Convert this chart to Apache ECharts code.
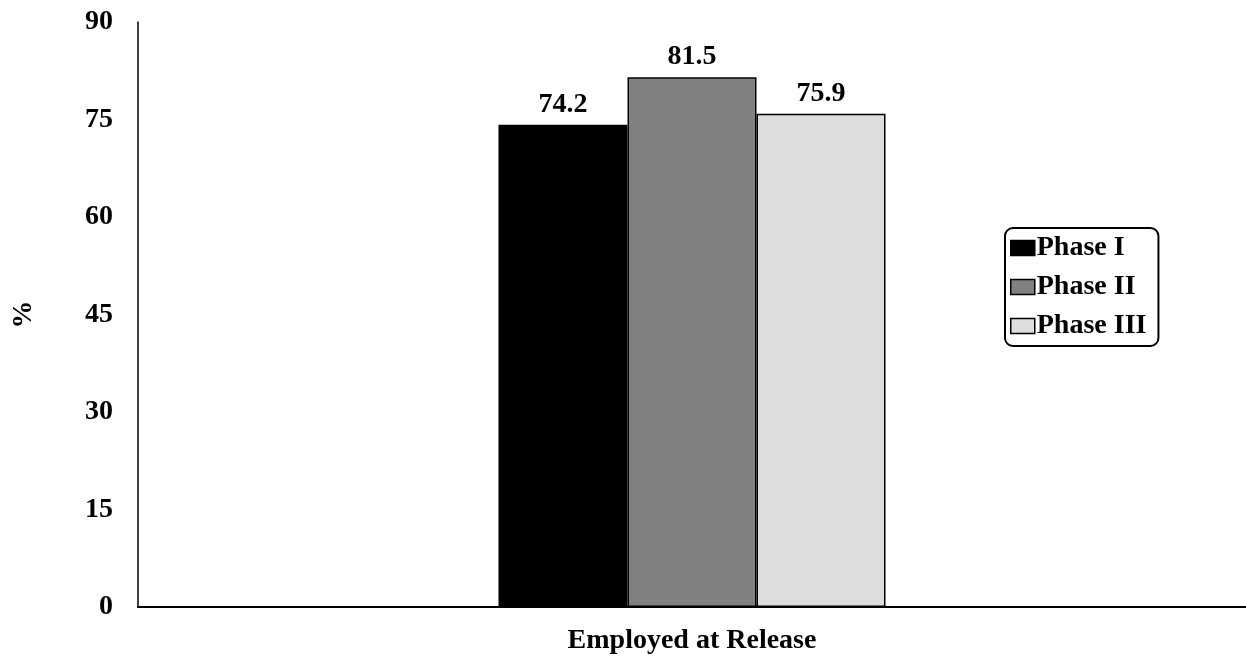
<!DOCTYPE html>
<html>
<head>
<meta charset="utf-8">
<script src="https://cdn.jsdelivr.net/npm/echarts@6/dist/echarts.min.js"></script>
<style>
html,body{margin:0;padding:0;background:#fff;}
#chart{width:1246px;height:656px;}
</style>
</head>
<body>
<div id="chart"></div>
<script>
const categories = ['Employed at Release'];
const seriesNames = ['Phase I', 'Phase II', 'Phase III'];
const phase1 = [74.2];
const phase2 = [81.5];
const phase3 = [75.9];
const seriesColors = ['#000000', '#808080', '#dddddd'];
const yTicks = { min: 0, max: 90, interval: 15 };

const font = '"Liberation Serif", "Times New Roman", serif';
const values = [phase1, phase2, phase3];

const chart = echarts.init(document.getElementById('chart'));
chart.setOption({
  animation: false,
  backgroundColor: '#ffffff',
  textStyle: { fontFamily: font },
  grid: { left: 138, right: 0, top: 22, bottom: 49, containLabel: false, outerBoundsMode: 'none' },
  legend: {
    orient: 'vertical',
    left: 1005,
    top: 228,
    padding: [6, 12, 6, 5],
    itemGap: 11,
    itemWidth: 24,
    itemHeight: 15,
    icon: 'rect',
    borderColor: '#000',
    borderWidth: 2,
    borderRadius: 8,
    itemStyle: { borderColor: '#000', borderWidth: 1.5 },
    textStyle: { fontFamily: font, fontWeight: 'bold', fontSize: 28, color: '#000', padding: [0, 0, 0, -3] },
    data: seriesNames
  },
  xAxis: {
    type: 'category',
    data: categories,
    axisLine: { lineStyle: { color: '#000', width: 2 } },
    axisTick: { show: false },
    axisLabel: { fontFamily: font, fontWeight: 'bold', fontSize: 28, color: '#000', margin: 20 }
  },
  yAxis: {
    type: 'value',
    min: yTicks.min, max: yTicks.max, interval: yTicks.interval,
    name: '%',
    nameLocation: 'middle',
    nameRotate: 90,
    nameGap: 100,
    nameTextStyle: { fontFamily: font, fontWeight: 'bold', fontSize: 28, color: '#000' },
    axisLine: { show: true, lineStyle: { color: '#000', width: 1.5 } },
    axisTick: { show: false },
    splitLine: { show: false },
    axisLabel: { fontFamily: font, fontWeight: 'bold', fontSize: 28, color: '#000', margin: 25 }
  },
  series: seriesNames.map((name, i) => ({
    name: name,
    type: 'bar',
    data: values[i],
    barWidth: 129,
    barGap: '0%',
    itemStyle: { color: seriesColors[i], borderColor: '#000', borderWidth: 1.5 },
    label: {
      show: true,
      position: 'top',
      distance: 6,
      fontFamily: font,
      fontWeight: 'bold',
      fontSize: 28,
      color: '#000',
      formatter: p => p.value.toFixed(1)
    }
  }))
});
</script>
</body>
</html>
